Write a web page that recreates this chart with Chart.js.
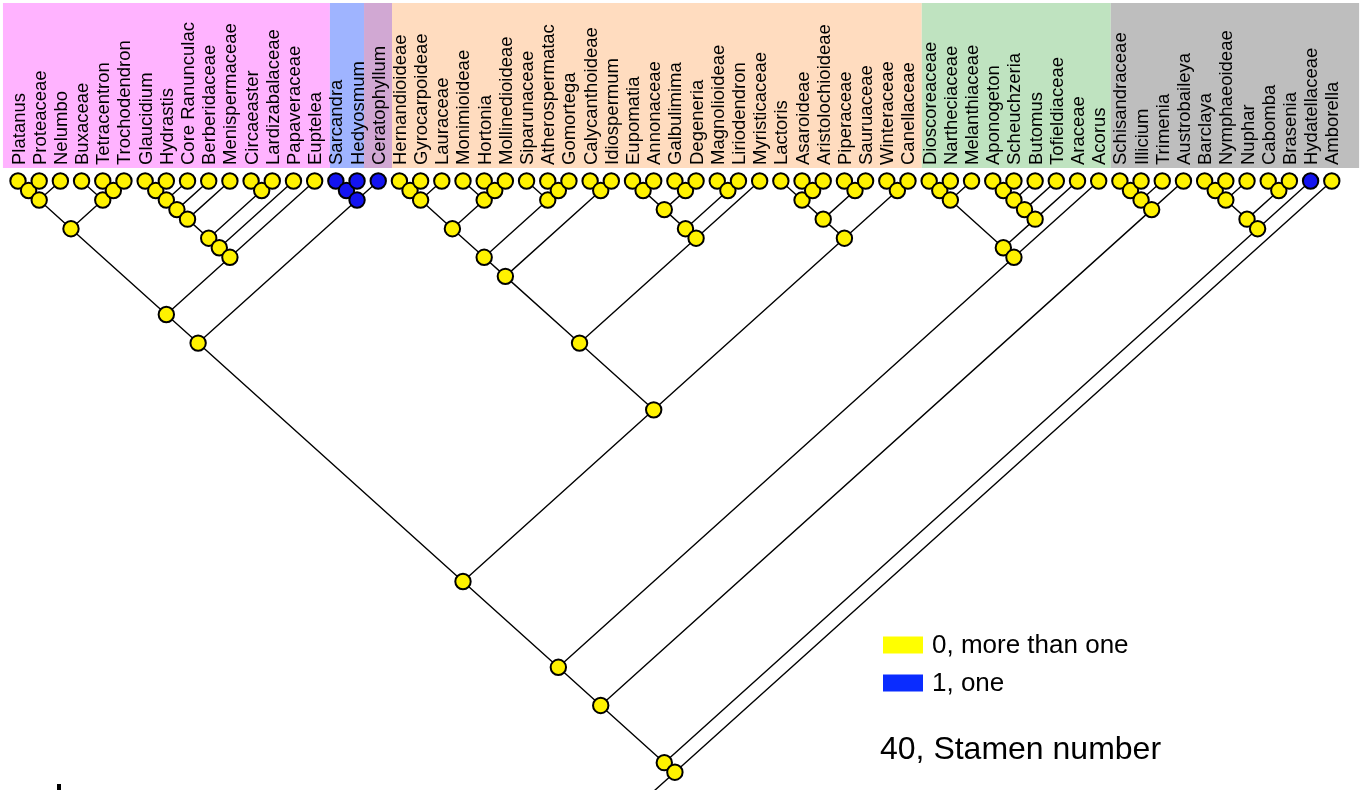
<!DOCTYPE html>
<html>
<head>
<meta charset="utf-8">
<script src="https://cdn.jsdelivr.net/npm/chart.js@4.4.1/dist/chart.umd.min.js"></script>
<style>
  html, body { margin: 0; padding: 0; background: #ffffff; }
  #wrap { width: 1368px; height: 790px; position: relative; }
</style>
</head>
<body>
<div id="wrap"><canvas id="tree" width="1368" height="790"></canvas></div>
<script>
// ---- Data ----------------------------------------------------------------
const taxa = [
  "Platanus", "Proteaceae", "Nelumbo", "Buxaceae", "Tetracentron", "Trochodendron",
  "Glaucidium", "Hydrastis", "Core Ranunculac", "Berberidaceae", "Menispermaceae",
  "Circaeaster", "Lardizabalaceae", "Papaveraceae", "Euptelea",
  "Sarcandra", "Hedyosmum", "Ceratophyllum",
  "Hernandioideae", "Gyrocarpoideae", "Lauraceae", "Monimioideae", "Hortonia",
  "Mollinedioideae", "Siparunaceae", "Atherospermatac", "Gomortega", "Calycanthoideae",
  "Idiospermum", "Eupomatia", "Annonaceae", "Galbulimima", "Degeneria", "Magnolioideae",
  "Liriodendron", "Myristicaceae", "Lactoris", "Asaroideae", "Aristolochioideae",
  "Piperaceae", "Sauruaceae", "Winteraceae", "Canellaceae",
  "Dioscoreaceae", "Nartheciaceae", "Melanthiaceae", "Aponogeton", "Scheuchzeria",
  "Butomus", "Tofieldiaceae", "Araceae", "Acorus",
  "Schisandraceae", "Illicium", "Trimenia", "Austrobaileya",
  "Barclaya", "Nymphaeoideae", "Nuphar", "Cabomba", "Brasenia", "Hydatellaceae", "Amborella"
];

// Character 40 (stamen number) state at each terminal: 0 = more than one, 1 = one
const tipStates = [
  0, 0, 0, 0, 0, 0, 0, 0, 0, 0, 0, 0, 0, 0, 0,
  1, 1, 1,
  0, 0, 0, 0, 0, 0, 0, 0, 0, 0, 0, 0, 0, 0, 0, 0, 0, 0, 0, 0, 0, 0, 0, 0, 0,
  0, 0, 0, 0, 0, 0, 0, 0, 0,
  0, 0, 0, 0,
  0, 0, 0, 0, 0, 1, 0
];

// Internal nodes reconstructed as state 1 (named by the clade's outermost terminals)
const stateOneClades = [
  ["Sarcandra", "Hedyosmum"],
  ["Sarcandra", "Ceratophyllum"]
];

const eudicots = "((((Platanus,Proteaceae),Nelumbo),(Buxaceae,(Tetracentron,Trochodendron)))," +
  "(((((((Glaucidium,Hydrastis),Core Ranunculac),Berberidaceae),Menispermaceae),(Circaeaster,Lardizabalaceae)),Papaveraceae),Euptelea))";
const chloranthCerato = "((Sarcandra,Hedyosmum),Ceratophyllum)";
const laurales = "(((((Hernandioideae,Gyrocarpoideae),Lauraceae),(Monimioideae,(Hortonia,Mollinedioideae)))," +
  "(Siparunaceae,(Atherospermatac,Gomortega))),(Calycanthoideae,Idiospermum))";
const magnoliales = "((((Eupomatia,Annonaceae),(Galbulimima,Degeneria)),(Magnolioideae,Liriodendron)),Myristicaceae)";
const piperCanell = "(((Lactoris,(Asaroideae,Aristolochioideae)),(Piperaceae,Sauruaceae)),(Winteraceae,Canellaceae))";
const monocots = "((((Dioscoreaceae,Nartheciaceae),Melanthiaceae),((((Aponogeton,Scheuchzeria),Butomus),Tofieldiaceae),Araceae)),Acorus)";
const austrobaileyales = "(((Schisandraceae,Illicium),Trimenia),Austrobaileya)";
const nymphaeales = "((((Barclaya,Nymphaeoideae),Nuphar),(Cabomba,Brasenia)),Hydatellaceae)";

const treeNewick =
  "((((((" + eudicots + "," + chloranthCerato + "),((" + laurales + "," + magnoliales + ")," + piperCanell + "))," +
  monocots + ")," + austrobaileyales + ")," + nymphaeales + "),Amborella)";

// Coloured header groups, by first and last terminal
const groups = [
  { first: "Platanus",       last: "Euptelea" },
  { first: "Sarcandra",      last: "Hedyosmum" },
  { first: "Ceratophyllum",  last: "Ceratophyllum" },
  { first: "Hernandioideae", last: "Canellaceae" },
  { first: "Dioscoreaceae",  last: "Acorus" },
  { first: "Schisandraceae", last: "Amborella" }
];

const stateLabels = ["0, more than one", "1, one"];
const characterTitle = "40, Stamen number";

// ---- Layout & style ------------------------------------------------------
const W = 1368, H = 790;
const TIP0_PX = 18;          // pixel of first terminal
const TIP_STEP_PX = 21.19;   // spacing between terminals
const TIP_Y_PX = 181;        // row of terminal circles
const SLOPE = 0.9;           // branch steepness
const H_STEP_PX = TIP_STEP_PX * SLOPE;

const BAND_EDGES = [-0.71, 14.72, 16.33, 17.65, 42.65, 51.57, 63.29]; // in terminal units
const BAND_TOP = 3, BAND_BOTTOM = 168;
const BAND_COLORS = ["#ffb3ff", "#9fb4ff", "#d1a8d3", "#ffdcbf", "#bfe3c0", "#bebebe"];

const STATE_COLORS = ["#fff200", "#1414f0"];
const SWATCH_COLORS = ["#ffff00", "#0a2cff"];
const FONT = '"Liberation Sans", Arial, Helvetica, sans-serif';

// ---- Tree parsing and layout --------------------------------------------
function parseNewick(s) {
  let i = 0;
  function node() {
    if (s[i] === "(") {
      i++;
      const children = [node()];
      while (s[i] === ",") { i++; children.push(node()); }
      i++; // closing parenthesis
      return { children };
    }
    let name = "";
    while (i < s.length && !",)".includes(s[i])) name += s[i++];
    return { name: name.trim() };
  }
  return node();
}

function place(n) {
  if (!n.children) {
    n.L = n.R = taxa.indexOf(n.name);
    n.state = tipStates[n.L];
  } else {
    n.children.forEach(place);
    n.L = Math.min(...n.children.map(c => c.L));
    n.R = Math.max(...n.children.map(c => c.R));
    const isOne = stateOneClades.some(([a, b]) => taxa.indexOf(a) === n.L && taxa.indexOf(b) === n.R);
    n.state = isOne ? 1 : 0;
  }
  n.x = (n.L + n.R) / 2;
  n.h = (n.R - n.L) / 2;
}

const root = parseNewick(treeNewick);
place(root);

const edgePts = [];
const nodePts = [];
const nodeColors = [];

function walkEdges(n) {
  if (!n.children) return;
  n.children.forEach(c => {
    edgePts.push({ x: n.x, y: n.h }, { x: c.x, y: c.h }, { x: c.x, y: null });
    walkEdges(c);
  });
}
walkEdges(root);
// stem below the root
edgePts.push({ x: root.x, y: root.h }, { x: root.x - 2, y: root.h + 2 });

// in-order: left subtree, node, right subtree
function walkNodes(n) {
  if (!n.children) {
    nodePts.push({ x: n.x, y: n.h });
    nodeColors.push(STATE_COLORS[n.state]);
    return;
  }
  walkNodes(n.children[0]);
  nodePts.push({ x: n.x, y: n.h });
  nodeColors.push(STATE_COLORS[n.state]);
  for (let k = 1; k < n.children.length; k++) walkNodes(n.children[k]);
}
walkNodes(root);

// ---- Decorations: header bands, terminal names, legend ------------------
const decor = {
  id: "decor",
  beforeDatasetsDraw(chart) {
    const ctx = chart.ctx, xs = chart.scales.x;
    ctx.save();
    for (let g = 0; g < groups.length; g++) {
      const x0 = xs.getPixelForValue(BAND_EDGES[g]);
      const x1 = xs.getPixelForValue(BAND_EDGES[g + 1]);
      ctx.fillStyle = BAND_COLORS[g];
      ctx.fillRect(x0, BAND_TOP, x1 - x0, BAND_BOTTOM - BAND_TOP);
    }
    ctx.fillStyle = "#000000";
    ctx.font = "18.5px " + FONT;
    ctx.textAlign = "left";
    ctx.textBaseline = "alphabetic";
    taxa.forEach((name, i) => {
      ctx.save();
      ctx.translate(xs.getPixelForValue(i) + 6.5, 165);
      ctx.rotate(-Math.PI / 2);
      ctx.fillText(name, 0, 0);
      ctx.restore();
    });
    ctx.restore();
  },
  afterDraw(chart) {
    const ctx = chart.ctx;
    ctx.save();
    ctx.textAlign = "left";
    ctx.textBaseline = "middle";
    ctx.font = "26px " + FONT;
    stateLabels.forEach((lab, k) => {
      const y = 645 + k * 38;
      ctx.fillStyle = SWATCH_COLORS[k];
      ctx.fillRect(883, y - 8.5, 40, 17);
      ctx.fillStyle = "#000000";
      ctx.fillText(lab, 932, y + 1);
    });
    ctx.font = "32px " + FONT;
    ctx.fillText(characterTitle, 880, 750);
    ctx.fillRect(57, 784, 4, 6);
    ctx.restore();
  }
};

new Chart(document.getElementById("tree"), {
  type: "scatter",
  data: {
    datasets: [
      {
        label: "nodes",
        data: nodePts,
        order: 0,
        showLine: false,
        pointRadius: 7.7,
        pointBorderWidth: 2,
        pointBorderColor: "#000000",
        pointBackgroundColor: nodeColors,
        pointHoverRadius: 7.7
      },
      {
        label: "branches",
        data: edgePts,
        order: 1,
        showLine: true,
        spanGaps: false,
        borderColor: "#000000",
        borderWidth: 1.4,
        pointRadius: 0,
        pointHoverRadius: 0,
        tension: 0
      }
    ]
  },
  options: {
    responsive: false,
    maintainAspectRatio: false,
    animation: false,
    events: [],
    layout: { padding: 0, autoPadding: false },
    plugins: { legend: { display: false }, tooltip: { enabled: false } },
    scales: {
      x: { type: "linear", display: false, min: -TIP0_PX / TIP_STEP_PX, max: (W - TIP0_PX) / TIP_STEP_PX },
      y: { type: "linear", display: false, reverse: true, min: -TIP_Y_PX / H_STEP_PX, max: (H - TIP_Y_PX) / H_STEP_PX }
    }
  },
  plugins: [decor]
});
</script>
</body>
</html>
